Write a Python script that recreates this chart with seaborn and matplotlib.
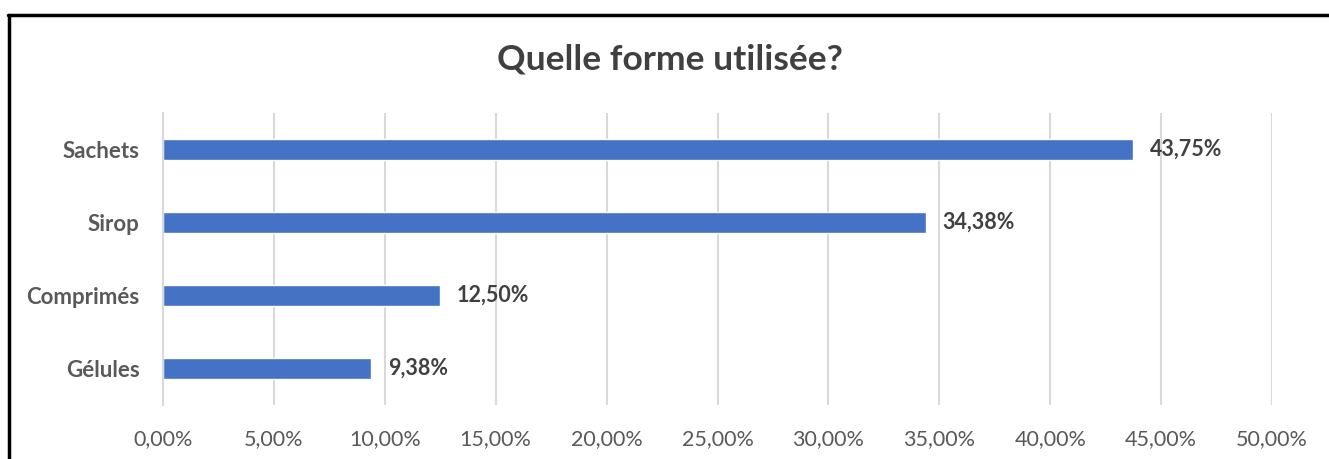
import pandas as pd
import matplotlib
matplotlib.use("Agg")
import matplotlib.pyplot as plt
import seaborn as sns
from matplotlib.lines import Line2D

# Quelle forme utilisée? - horizontal bar chart

formes = ["Sachets", "Sirop", "Comprimés", "Gélules"]
pourcentages = [43.75, 34.38, 12.50, 9.38]
ticks_x = [0, 5, 10, 15, 20, 25, 30, 35, 40, 45, 50]

df = pd.DataFrame({"forme": formes, "pct": pourcentages})

sns.set_style("white")
plt.rcParams["font.family"] = ["Lato", "DejaVu Sans"]

fig = plt.figure(figsize=(13.29, 4.59), dpi=100)
ax = fig.add_axes([163 / 1329, 1 - 405 / 459, (1272 - 163) / 1329, (405 - 113) / 459])

sns.barplot(data=df, x="pct", y="forme", orient="h", color="#4472C4",
            saturation=1, width=0.3, ax=ax)

ax.set_xlim(0, 50)
ax.set_ylim(3.5, -0.5)
ax.set_xticks(ticks_x)
ax.set_xticklabels([f"{t:.2f}%".replace(".", ",") for t in ticks_x],
                   fontsize=15.5, color="#595959")
ax.tick_params(axis="x", length=0, pad=17)
ax.tick_params(axis="y", length=0, pad=17)
for lab in ax.get_yticklabels():
    lab.set_fontsize(16)
    lab.set_fontweight("bold")
    lab.set_color("#595959")
ax.set_xlabel("")
ax.set_ylabel("")
ax.grid(axis="x", color="#D9D9D9", linewidth=1.5)
ax.set_axisbelow(True)
for s in ["top", "right", "bottom"]:
    ax.spines[s].set_visible(False)
ax.spines["left"].set_color("#D9D9D9")
ax.spines["left"].set_linewidth(1.5)

ax.bar_label(ax.containers[0],
             labels=[f"{v:.2f}%".replace(".", ",") for v in pourcentages],
             padding=12, fontsize=15.5, fontweight="bold", color="#404040")

fig.text(0.504, 1 - 60 / 459, "Quelle forme utilisée?", ha="center", va="center",
         fontsize=25.5, fontweight="bold", color="#404040")

# black frame (left and top edge of the screenshot)
fig.add_artist(Line2D([9 / 1329, 9 / 1329], [0, 1 - 15 / 459], color="black",
                      linewidth=2.5, transform=fig.transFigure))
fig.add_artist(Line2D([8 / 1329, 1], [1 - 15 / 459, 1 - 15 / 459], color="black",
                      linewidth=2.5, transform=fig.transFigure))

fig.savefig("out.png", dpi=100)
